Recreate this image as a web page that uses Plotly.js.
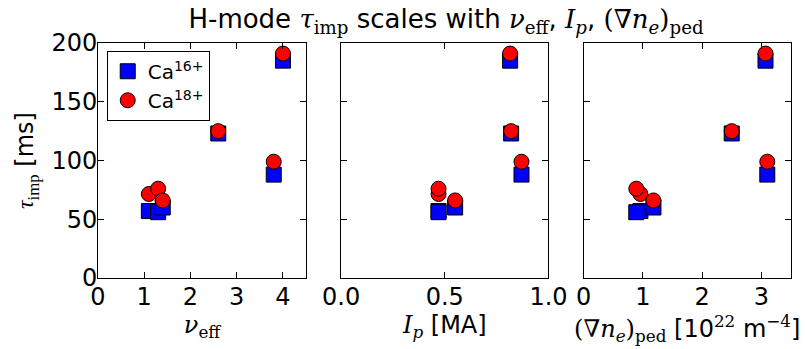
<!DOCTYPE html>
<html>
<head>
<meta charset="utf-8">
<script src="https://cdn.plot.ly/plotly-3.0.1.min.js"></script>
<style>
  html, body { margin: 0; padding: 0; background: #fff; }
  #chart { width: 805px; height: 349px; }
</style>
</head>
<body>
<div id="chart"></div>
<script>
// Impurity confinement time for two calcium charge states, one entry per discharge
const nuEff = [1.1, 1.3, 1.4, 2.6, 3.8, 4.0];
const plasmaCurrentMA = [0.47, 0.47, 0.55, 0.82, 0.87, 0.815];
const gradNePed = [0.96, 0.89, 1.18, 2.50, 3.10, 3.07];
const tauCa16 = [57, 56, 60, 123, 88, 185];
const tauCa18 = [71.5, 76, 66, 125, 99, 191];

const seriesNames = ['Ca<sup>16+</sup>', 'Ca<sup>18+</sup>'];
const tauTicks = [0, 50, 100, 150, 200];

// serif math symbols
const M = (s, fam) => `<span style="font-family:${fam || 'DejaVu Serif'}">${s}</span>`;

const SANS = 'DejaVu Sans';
const W = 805, H = 349;
const margin = { l: 98, r: 14, t: 43, b: 71 };

const series = [
  { y: tauCa16, name: seriesNames[0], symbol: 'square', color: '#0000ff' },
  { y: tauCa18, name: seriesNames[1], symbol: 'circle', color: '#ff0000' }
];
const panels = [
  { x: nuEff, xa: 'x', ya: 'y' },
  { x: plasmaCurrentMA, xa: 'x2', ya: 'y2' },
  { x: gradNePed, xa: 'x3', ya: 'y3' }
];

const traces = [];
panels.forEach((p, pi) => {
  series.forEach((s, si) => {
    traces.push({
      type: 'scatter', mode: 'markers',
      x: p.x, y: s.y, xaxis: p.xa, yaxis: p.ya,
      name: s.name, legendgroup: 'g' + si, showlegend: pi === 0,
      marker: { symbol: s.symbol, size: 15, color: s.color,
                line: { color: '#000', width: 1 } },
      hoverinfo: 'x+y'
    });
  });
});

const baseAxis = {
  showline: true, linecolor: '#000', linewidth: 1, mirror: 'ticks',
  ticks: 'inside', ticklen: 6, tickcolor: '#000', tickwidth: 1,
  showgrid: false, zeroline: false,
  tickfont: { family: SANS, size: 24, color: '#000' },
  title: { font: { family: SANS, size: 24, color: '#000' } }
};
const ax = o => Object.assign({}, baseAxis, o, { title: Object.assign({}, baseAxis.title, o.title || {}) });

const yCommon = { range: [0, 200], tickvals: tauTicks };
const xStand = { ticklabelstandoff: -3 };

const layout = {
  width: W, height: H, margin,
  paper_bgcolor: '#fff', plot_bgcolor: '#fff',
  showlegend: true,
  title: {
    text: `H-mode ${M('<i>τ</i><sub>imp</sub>')} scales with ${M('<i>ν</i><sub>eff</sub>')}, ${M('<i>I</i><sub><i>p</i></sub>')}, ${M('(∇<i>n</i><sub><i>e</i></sub>)<sub>ped</sub>')}`,
    font: { family: SANS, size: 26, color: '#000' },
    x: 446 / W, xref: 'container', xanchor: 'center',
    y: 1 - 19 / H, yref: 'container', yanchor: 'middle'
  },
  xaxis: ax(Object.assign({ domain: [0, 0.3003], anchor: 'y', range: [0, 4.5], tickvals: [0, 1, 2, 3, 4],
              title: { text: M('<i>ν</i><sub>eff</sub>'), standoff: 6 } }, xStand)),
  xaxis2: ax(Object.assign({ domain: [0.3508, 0.650], anchor: 'y2', range: [0, 1], tickvals: [0, 0.5, 1], tickformat: '.1f',
               title: { text: `${M('<i>I</i><sub><i>p</i></sub>')} [MA]`, standoff: 6 } }, xStand)),
  xaxis3: ax(Object.assign({ domain: [0.7006, 1], anchor: 'y3', range: [0, 3.5], tickvals: [0, 1, 2, 3],
               title: { text: `${M('(∇<i>n</i><sub><i>e</i></sub>)<sub>ped</sub>')} [10${M('<sup>22</sup>')} m${M('<sup>−4</sup>')}]`, standoff: 6 } }, xStand)),
  yaxis: ax(Object.assign({ anchor: 'x', ticklabelstandoff: -5,
              title: { text: `${M('<i>τ</i><sub>imp</sub>', 'Liberation Serif')} [ms]`, standoff: 10 } }, yCommon)),
  yaxis2: ax(Object.assign({ anchor: 'x2', showticklabels: false }, yCommon)),
  yaxis3: ax(Object.assign({ anchor: 'x3', showticklabels: false }, yCommon)),
  legend: {
    x: 0.0126, y: 0.967, xanchor: 'left', yanchor: 'top',
    bordercolor: '#000', borderwidth: 1, bgcolor: '#fff',
    font: { family: SANS, size: 20, color: '#000' },
    itemsizing: 'trace', tracegroupgap: 0
  }
};

Plotly.newPlot('chart', traces, layout, { displayModeBar: false, staticPlot: true });
</script>
</body>
</html>
